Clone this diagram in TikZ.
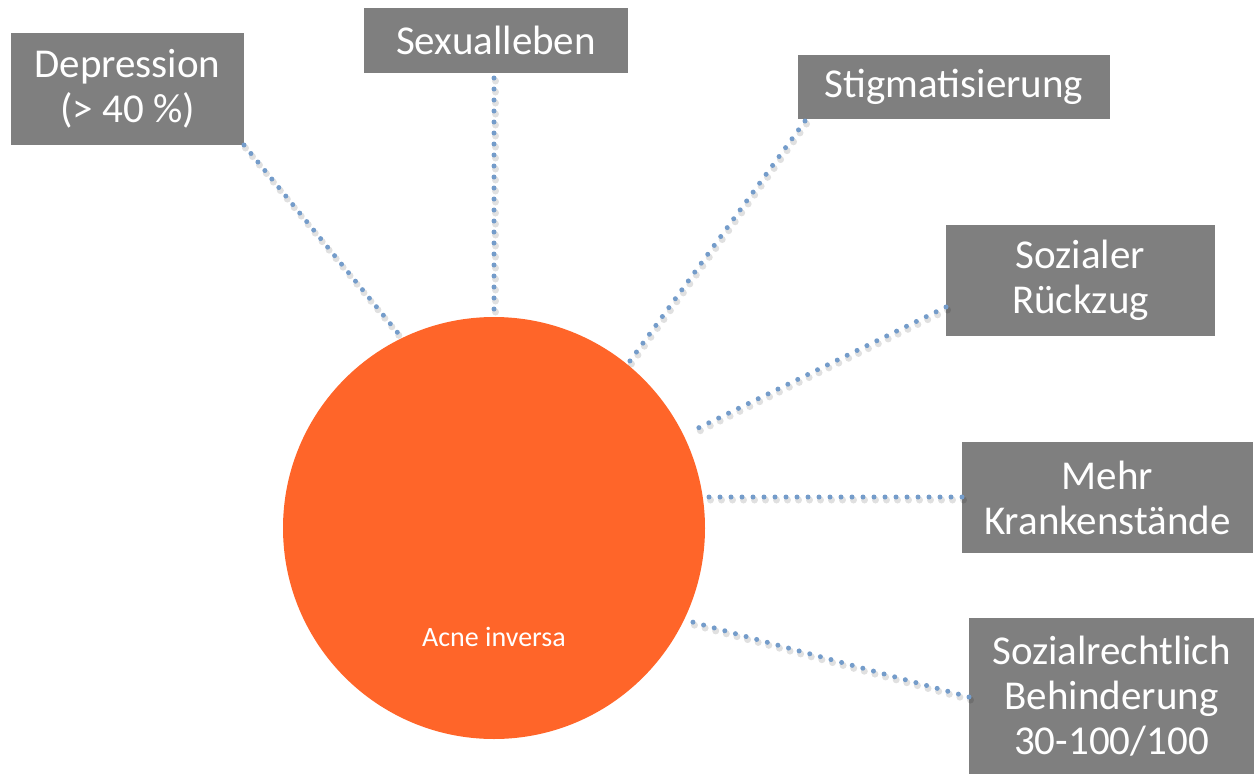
\documentclass[tikz,border=0pt]{standalone}
\usepackage{fontspec}
\setmainfont{Carlito}
\definecolor{boxgray}{RGB}{127,127,127}
\definecolor{acneorange}{RGB}{255,101,41}
\definecolor{dotblue}{RGB}{116,156,202}
\tikzset{
  labelbox/.style={fill=boxgray, text=white, inner sep=0pt, align=center,
    font=\fontsize{41}{45}\selectfont},
  dotline/.style={dotblue, line width=5pt, line cap=round, dash pattern=on 0pt off 11pt},
  dotshadow/.style={black, opacity=0.12, line width=7pt, line cap=round, dash pattern=on 0pt off 11pt},
}
\begin{document}
\begin{tikzpicture}[x=1pt,y=-1pt]
\useasboundingbox (0,0) rectangle (1254,774);
% circle
\node[circle, fill=acneorange, minimum size=422pt, inner sep=0pt] (c) at (494,528) {};
\node[text=white, font=\fontsize{28}{32}\selectfont] (acne) at (494,637) {Acne inversa};
% boxes
\node[labelbox, minimum width=233pt, minimum height=112pt] (dep) at (127.5,89) {Depression\\(> 40 \%)};
\node[labelbox, minimum width=264pt, minimum height=65pt] (sex) at (496,40.5) {Sexualleben};
\node[labelbox, minimum width=312pt, minimum height=64pt] (stig) at (954,87) {Stigmatisierung};
\node[labelbox, minimum width=269pt, minimum height=111pt] (soz) at (1080.5,280.5) {Sozialer\\Rückzug};
\node[labelbox, minimum width=291pt, minimum height=111pt] (mehr) at (1107.5,497.5) {Mehr\\Krankenstände};
\node[labelbox, minimum width=285pt, minimum height=156pt] (recht) at (1111.5,696) {Sozialrechtlich\\Behinderung\\30-100/100};
% endpoints
\coordinate (dA) at (244,145);  \coordinate (dB) at (402,338);
\coordinate (sA) at (494,78);   \coordinate (sB) at (494,316);
\coordinate (tA) at (805,121);  \coordinate (tB) at (627,365);
\coordinate (zA) at (946,307);  \coordinate (zB) at (690,432);
\coordinate (mA) at (962,497);  \coordinate (mB) at (708,497);
\coordinate (rA) at (969,697);  \coordinate (rB) at (685,620);
% shadows
\foreach \a/\b in {dA/dB,sA/sB,tA/tB,zA/zB,mA/mB,rA/rB}
  \draw[dotshadow, transform canvas={shift={(1.5pt,-3pt)}}] (\a) -- (\b);
% connectors
\draw[dotline] (dA) -- (dB);
\draw[dotline] (sA) -- (sB);
\draw[dotline] (tA) -- (tB);
\draw[dotline] (zA) -- (zB);
\draw[dotline] (mA) -- (mB);
\draw[dotline] (rA) -- (rB);
\end{tikzpicture}
\end{document}
